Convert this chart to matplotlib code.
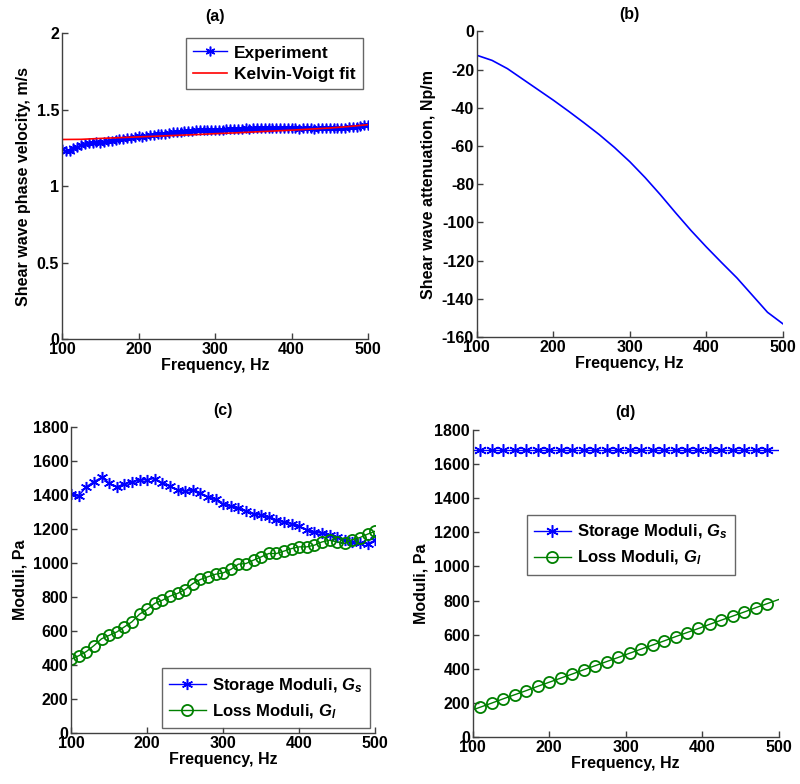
"""shear wave dispersion / moduli, 4 panels"""

import numpy as np
import matplotlib
matplotlib.use("Agg")
import matplotlib.pyplot as plt

plt.rcParams['font.family'] = ['Liberation Sans', 'DejaVu Sans']
plt.rcParams['font.weight'] = 'bold'
plt.rcParams['axes.unicode_minus'] = False
plt.rcParams['mathtext.fontset'] = 'custom'
plt.rcParams['mathtext.it'] = 'Liberation Sans:bold:italic'
plt.rcParams['mathtext.rm'] = 'Liberation Sans:bold'

# (a) phase velocity, experiment every 5 Hz
freq_a = np.arange(100, 501, 5)
vel_exp = [1.240, 1.228, 1.232, 1.250, 1.258, 1.266, 1.275, 1.280, 1.283, 1.287,
           1.284, 1.290, 1.293, 1.297, 1.300, 1.306, 1.310, 1.314, 1.318, 1.322,
           1.326, 1.324, 1.330, 1.333, 1.336, 1.338, 1.342, 1.344, 1.350, 1.352,
           1.355, 1.357, 1.360, 1.362, 1.361, 1.364, 1.366, 1.365, 1.367, 1.366,
           1.368, 1.370, 1.369, 1.372, 1.373, 1.371, 1.375, 1.376, 1.377, 1.376,
           1.378, 1.379, 1.380, 1.378, 1.381, 1.382, 1.380, 1.383, 1.381, 1.378,
           1.377, 1.379, 1.376, 1.378, 1.377, 1.379, 1.376, 1.378, 1.380, 1.378,
           1.381, 1.379, 1.380, 1.382, 1.381, 1.384, 1.386, 1.389, 1.393, 1.398,
           1.402]
freq_fit = [100, 125, 150, 175, 200, 225, 250, 275, 300, 325, 350, 375, 400,
            425, 450, 475, 500]
vel_fit = [1.305, 1.306, 1.312, 1.317, 1.322, 1.327, 1.332, 1.337, 1.343,
           1.348, 1.354, 1.360, 1.366, 1.373, 1.380, 1.390, 1.402]

# (b) attenuation
freq_b = [100, 120, 140, 160, 180, 200, 220, 240, 260, 280, 300, 320, 340,
          360, 380, 400, 420, 440, 460, 480, 500]
atten = [-12.5, -15.2, -19.5, -25.0, -30.5, -36.0, -41.8, -47.8, -54.0,
         -60.8, -68.2, -76.5, -85.5, -95.0, -104.2, -112.8, -121.0, -129.0,
         -138.0, -147.0, -153.0]

# (c) moduli from experiment, every 10 Hz
freq_c = np.arange(100, 501, 10)
gs_c = [1405, 1398, 1450, 1480, 1505, 1470, 1450, 1465, 1480, 1488,
        1492, 1498, 1473, 1455, 1430, 1424, 1428, 1414, 1390, 1375,
        1347, 1335, 1327, 1308, 1292, 1282, 1269, 1253, 1243, 1233,
        1218, 1198, 1184, 1175, 1165, 1155, 1139, 1125, 1120, 1115,
        1135]
gl_c = [435, 455, 480, 515, 555, 575, 595, 625, 655, 700,
        728, 763, 782, 806, 822, 845, 880, 904, 920, 935,
        943, 963, 994, 998, 1018, 1037, 1057, 1057, 1071, 1086,
        1096, 1096, 1106, 1125, 1135, 1125, 1116, 1139, 1151, 1171,
        1188]

# (d) moduli from Kelvin-Voigt fit
freq_d = [100, 110, 125, 140, 155, 170, 185, 200, 215, 230, 245, 260, 275,
          290, 305, 320, 335, 350, 365, 380, 395, 410, 425, 440, 455, 470,
          485, 500]
gs_d = [1680] * len(freq_d)
gl_d = [159, 175, 199, 224, 248, 272, 297, 321, 345, 369, 394, 418, 442,
        466, 491, 515, 539, 563, 588, 612, 636, 661, 685, 709, 733, 758,
        782, 806]

xticks = [100, 200, 300, 400, 500]
green = (0, 0.5, 0)
star = (6, 2, 0)  # asterisk like matlab '*'

fig = plt.figure(figsize=(8, 7.84), dpi=100)
ax_a = fig.add_axes([0.0775, 0.5676, 0.3825, 0.390])
ax_b = fig.add_axes([0.596, 0.570, 0.3825, 0.390])
ax_c = fig.add_axes([0.089, 0.065, 0.380, 0.390])
ax_d = fig.add_axes([0.591, 0.060, 0.3825, 0.3916])


def style(ax, yticks, ylabels=None):
    for s in ['top', 'right']:
        ax.spines[s].set_visible(False)
    for s in ['left', 'bottom']:
        ax.spines[s].set_color('#404040')
        ax.spines[s].set_linewidth(1.0)
    ax.tick_params(direction='in', length=4, width=1, color='#404040',
                   labelsize=11.5, pad=2)
    ax.set_xlim(100, 500)
    ax.set_xticks(xticks, labels=[str(t) for t in xticks], fontweight='bold')
    if ylabels is None:
        ylabels = [str(t) for t in yticks]
    ax.set_yticks(yticks, labels=ylabels, fontweight='bold')
    ax.set_xlabel('Frequency, Hz', fontsize=11.5, fontweight='bold', labelpad=1)


# (a)
ax_a.plot(freq_a, vel_exp, '-', marker=star, color='b', ms=7, mew=1.1,
          lw=1.0, label='Experiment')
ax_a.plot(freq_fit, vel_fit, '-', color='r', lw=1.2, label='Kelvin-Voigt fit')
ax_a.set_ylim(0, 2)
style(ax_a, [0, 0.5, 1, 1.5, 2], ['0', '0.5', '1', '1.5', '2'])
ax_a.set_ylabel('Shear wave phase velocity, m/s', fontsize=11.5,
                fontweight='bold')
ax_a.set_title('(a)', fontsize=11.5, fontweight='bold', pad=9)
leg = ax_a.legend(loc='upper right', fontsize=12.5, fancybox=False,
                  borderaxespad=0.3, handlelength=2.0, borderpad=0.4,
                  labelspacing=0.35, handletextpad=0.4)
leg.get_frame().set_edgecolor('#404040')

# (b)
ax_b.plot(freq_b, atten, color='b', lw=1.2)
ax_b.set_ylim(-160, 0)
style(ax_b, list(range(-160, 1, 20)))
ax_b.set_ylabel('Shear wave attenuation, Np/m', fontsize=11.5,
                fontweight='bold')
ax_b.set_title('(b)', fontsize=11.5, fontweight='bold', pad=9)

# (c)
ax_c.plot(freq_c, gs_c, '-', marker=star, color='b', ms=8, mew=1.1, lw=1.0,
          label='Storage Moduli, $G_s$')
ax_c.plot(freq_c, gl_c, '-o', color=green, ms=8, mew=1.3, lw=1.0,
          mfc='none', label='Loss Moduli, $G_l$')
ax_c.set_ylim(0, 1800)
style(ax_c, list(range(0, 1801, 200)))
ax_c.set_ylabel('Moduli, Pa', fontsize=11.5, fontweight='bold')
ax_c.set_title('(c)', fontsize=11.5, fontweight='bold', pad=9)
leg = ax_c.legend(loc='lower right', fontsize=12, fancybox=False,
                  borderaxespad=0.3, handlelength=2.2, borderpad=0.45,
                  labelspacing=0.45, handletextpad=0.4)
leg.get_frame().set_edgecolor('#404040')

# (d)
ax_d.plot(freq_d, gs_d, '-', marker=star, color='b', ms=9, mew=1.1, lw=1.0,
          markevery=list(range(1, len(freq_d) - 1)),
          label='Storage Moduli, $G_s$')
ax_d.plot(freq_d, gl_d, '-o', color=green, ms=8, mew=1.3, lw=1.0,
          mfc='none', markevery=list(range(1, len(freq_d) - 1)),
          label='Loss Moduli, $G_l$')
ax_d.set_ylim(0, 1800)
style(ax_d, list(range(0, 1801, 200)))
ax_d.set_ylabel('Moduli, Pa', fontsize=11.5, fontweight='bold')
ax_d.set_title('(d)', fontsize=11.5, fontweight='bold', pad=9)
leg = ax_d.legend(loc='upper left', bbox_to_anchor=(0.176, 0.723),
                  fontsize=12, fancybox=False, borderaxespad=0.0,
                  handlelength=2.2, borderpad=0.45, labelspacing=0.45,
                  handletextpad=0.4)
leg.get_frame().set_edgecolor('#404040')

fig.savefig('out.png', dpi=100)
